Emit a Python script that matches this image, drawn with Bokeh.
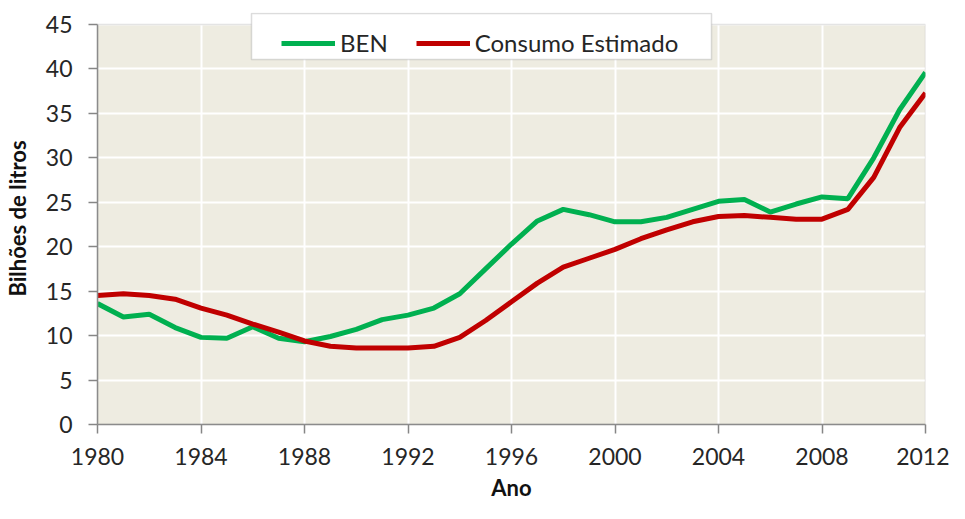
from bokeh.plotting import figure
from bokeh.models import Range1d, FixedTicker, Legend, LegendItem, BoxAnnotation
from bokeh.embed import file_html
from bokeh.resources import INLINE

years = list(range(1980, 2013))
ben = [13.6, 12.1, 12.4, 10.9, 9.8, 9.7, 11.0, 9.7, 9.3, 9.9, 10.7, 11.8, 12.3, 13.1,
       14.7, 17.5, 20.3, 22.9, 24.2, 23.6, 22.8, 22.8, 23.3, 24.2, 25.1, 25.3, 23.9,
       24.8, 25.6, 25.4, 30.0, 35.4, 39.6]
consumo = [14.5, 14.7, 14.5, 14.1, 13.1, 12.3, 11.3, 10.4, 9.4, 8.8, 8.6, 8.6, 8.6, 8.8,
           9.8, 11.7, 13.8, 15.9, 17.7, 18.7, 19.7, 20.9, 21.9, 22.8, 23.4, 23.5, 23.3,
           23.1, 23.1, 24.2, 27.8, 33.4, 37.3]
x_ticks = list(range(1980, 2013, 4))
y_ticks = list(range(0, 46, 5))
y_min, y_max = 0, 45

FONT = "Lato"
W, H = 949, 503
LEFT, RIGHT, TOP, BOTTOM = 95, 24, 12, 77
frame_h = H - TOP - BOTTOM
plot_top_px = 12  # beige area starts this many px below the frame top (room for legend)
px_per_unit = (frame_h - plot_top_px) / (y_max - y_min)
y_end = y_max + plot_top_px / px_per_unit

p = figure(width=W, height=H, output_backend="svg", toolbar_location=None,
           x_range=Range1d(x_ticks[0], x_ticks[-1]), y_range=Range1d(y_min, y_end),
           min_border_left=LEFT, min_border_right=RIGHT, min_border_top=TOP,
           min_border_bottom=BOTTOM)
p.background_fill_color = "white"
p.border_fill_color = "white"
p.outline_line_color = None

# beige plot area
p.add_layout(BoxAnnotation(left=x_ticks[0], right=x_ticks[-1], bottom=y_min, top=y_max,
                           fill_color="#EEECE1", fill_alpha=1.0, line_color=None,
                           level="image"))
# plot area border
p.add_layout(BoxAnnotation(left=x_ticks[0], right=x_ticks[-1], bottom=y_min, top=y_max,
                           fill_alpha=0.0, line_color="#A6A6A6", line_width=1.5,
                           level="guide"))

p.xgrid.grid_line_color = "white"
p.ygrid.grid_line_color = "white"
p.xgrid.grid_line_width = 2
p.ygrid.grid_line_width = 2

p.xaxis.ticker = FixedTicker(ticks=x_ticks)
p.yaxis.ticker = FixedTicker(ticks=y_ticks)
p.yaxis.bounds = (y_min, y_max)
for ax in (p.xaxis[0], p.yaxis[0]):
    ax.axis_line_color = "#868686"
    ax.axis_line_width = 1.5
    ax.major_tick_line_color = "#868686"
    ax.major_tick_line_width = 1.5
    ax.minor_tick_line_color = None
    ax.major_tick_in = 0
    ax.major_tick_out = 9
    ax.major_label_text_font = FONT
    ax.major_label_text_font_size = "23px"
    ax.major_label_text_color = "#262626"
    ax.axis_label_text_font = FONT
    ax.axis_label_text_font_size = "22px"
    ax.axis_label_text_font_style = "bold"
    ax.axis_label_text_color = "#111111"
p.xaxis.axis_label = "Ano"
p.yaxis.axis_label = "Bilhões de litros"
p.xaxis.major_label_standoff = 14
p.yaxis.major_label_standoff = 16
p.xaxis.axis_label_standoff = 6
p.yaxis.axis_label_standoff = 12

r1 = p.line(years, ben, line_color="#00B050", line_width=5)
r2 = p.line(years, consumo, line_color="#C00000", line_width=5)

# legend box (canvas pixel units)
leg_left_c, leg_top_c, leg_w, leg_h = 251, 13, 460, 46
p.add_layout(BoxAnnotation(left=leg_left_c, right=leg_left_c + leg_w,
                           top=leg_top_c, bottom=leg_top_c + leg_h,
                           left_units="canvas", right_units="canvas",
                           top_units="canvas", bottom_units="canvas",
                           fill_color="white", fill_alpha=1.0,
                           line_color="#8C8C8C", line_width=1.5, level="guide"))

legend = Legend(items=[LegendItem(label="BEN", renderers=[r1]),
                       LegendItem(label="Consumo Estimado", renderers=[r2])],
                location=(154 + 30, frame_h - 47), orientation="horizontal",
                label_text_font=FONT, label_text_font_size="24px", label_text_color="#262626",
                glyph_width=54, glyph_height=28, label_height=28,
                label_standoff=5, spacing=28, padding=10, margin=0,
                border_line_color=None, background_fill_alpha=0.0)
p.add_layout(legend, "center")

open("out.html", "w").write(file_html(p, INLINE))
